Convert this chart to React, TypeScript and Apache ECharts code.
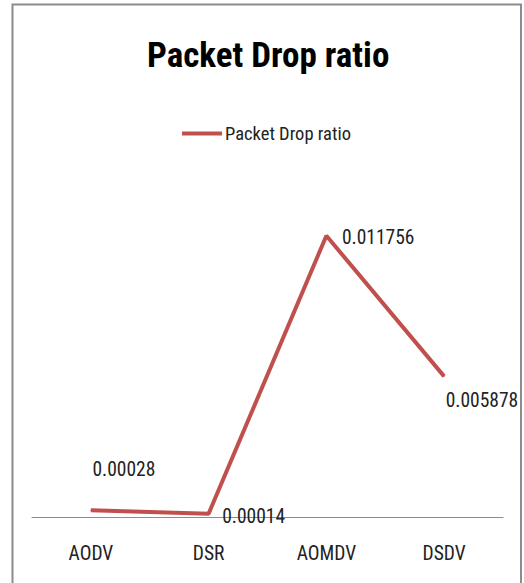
import React, { useEffect, useRef } from "react";
import * as echarts from "echarts";

const categories = ["AODV", "DSR", "AOMDV", "DSDV"];
const seriesName = "Packet Drop ratio";
const values = [0.00028, 0.00014, 0.011756, 0.005878];
const labelTexts = ["0.00028", "0.00014", "0.011756", "0.005878"];
const labelOffsets: [number, number][] = [[1, -41], [13, 3], [15, 2], [1, 24]];

const FONT = "'Liberation Sans Narrow', 'Roboto Condensed', 'DejaVu Sans Condensed', sans-serif";

export default function App() {
  const ref = useRef<HTMLDivElement>(null);
  useEffect(() => {
    if (!ref.current) return;
    const chart = echarts.init(ref.current, undefined, { renderer: "svg" });
    chart.setOption({
      animation: false,
      backgroundColor: "#ffffff",
      title: {
        text: "Packet Drop ratio",
        left: 142,
        top: 33,
        textStyle: { fontFamily: FONT, fontWeight: "bold", fontSize: 35, color: "#000" },
      },
      legend: {
        top: 119,
        left: 177,
        itemWidth: 40,
        itemHeight: 4,
        itemGap: 0,
        icon: "rect",
        textStyle: { fontFamily: FONT, fontSize: 18.5, color: "#222", padding: [0, 0, 0, -2] },
        data: [seriesName],
      },
      graphic: [
        {
          type: "rect",
          shape: { x: 12.5, y: 4.5, width: 508.5, height: 600 },
          style: { fill: "none", stroke: "#8c8c8c", lineWidth: 2 },
          silent: true,
        },
      ],
      grid: { left: 32, right: 21, top: 182, bottom: 66 },
      xAxis: {
        type: "category",
        data: categories,
        boundaryGap: true,
        axisLine: { lineStyle: { color: "#8c8c8c", width: 1 } },
        axisTick: { show: false },
        axisLabel: { fontFamily: FONT, fontSize: 19.5, color: "#222", margin: 26 },
      },
      yAxis: {
        type: "value",
        min: 0,
        max: 0.014,
        show: false,
        splitLine: { show: false },
      },
      series: [
        {
          name: seriesName,
          type: "line",
          data: values.map((v, i) => ({
            value: v,
            label: {
              show: true,
              position: "right",
              distance: 0,
              offset: labelOffsets[i],
              formatter: () => labelTexts[i],
              fontFamily: FONT,
              fontSize: 19.5,
              color: "#222",
            },
          })),
          symbol: "circle",
          symbolSize: 1,
          lineStyle: { color: "#C0504D", width: 4 },
          itemStyle: { color: "#C0504D" },
        },
      ],
    });
    return () => chart.dispose();
  }, []);
  return <div ref={ref} style={{ width: 524, height: 583, position: "absolute", left: 0, top: 0 }} />;
}
